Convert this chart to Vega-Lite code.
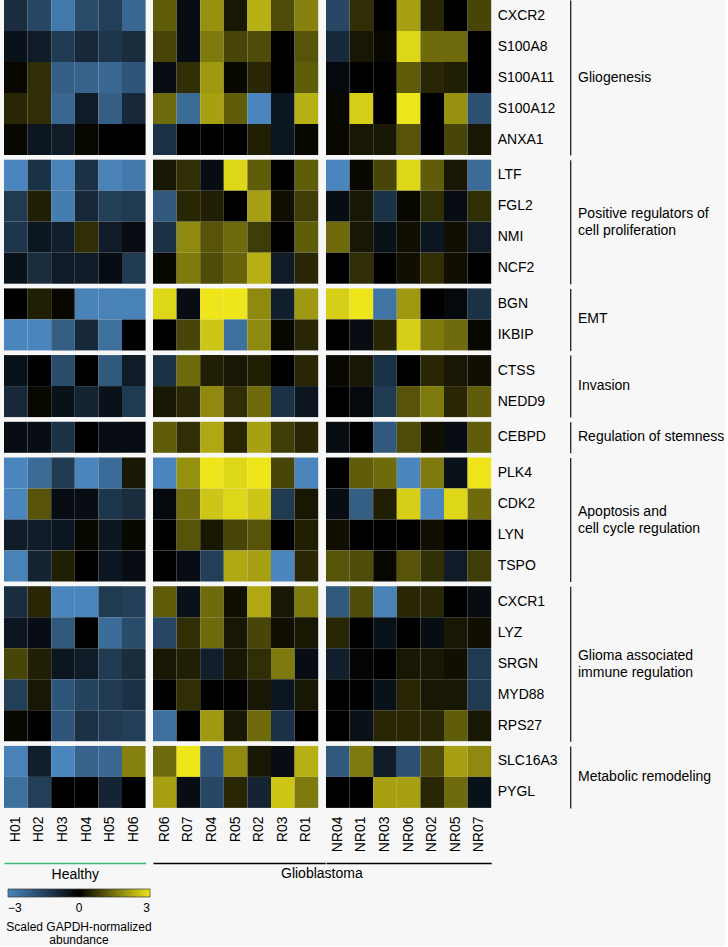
{
"$schema":"https://vega.github.io/schema/vega-lite/v6.json",
"background":"#f7f7f7",
"padding":{"left":4,"top":0,"right":0,"bottom":0},
"datasets":{
"genes":[{"g":"CXCR2","grp":"Gliogenesis"},{"g":"S100A8","grp":"Gliogenesis"},{"g":"S100A11","grp":"Gliogenesis"},{"g":"S100A12","grp":"Gliogenesis"},{"g":"ANXA1","grp":"Gliogenesis"},
{"g":"LTF","grp":"Positive regulators of cell proliferation"},{"g":"FGL2","grp":"Positive regulators of cell proliferation"},{"g":"NMI","grp":"Positive regulators of cell proliferation"},{"g":"NCF2","grp":"Positive regulators of cell proliferation"},
{"g":"BGN","grp":"EMT"},{"g":"IKBIP","grp":"EMT"},
{"g":"CTSS","grp":"Invasion"},{"g":"NEDD9","grp":"Invasion"},
{"g":"CEBPD","grp":"Regulation of stemness"},
{"g":"PLK4","grp":"Apoptosis and cell cycle regulation"},{"g":"CDK2","grp":"Apoptosis and cell cycle regulation"},{"g":"LYN","grp":"Apoptosis and cell cycle regulation"},{"g":"TSPO","grp":"Apoptosis and cell cycle regulation"},
{"g":"CXCR1","grp":"Glioma associated immune regulation"},{"g":"LYZ","grp":"Glioma associated immune regulation"},{"g":"SRGN","grp":"Glioma associated immune regulation"},{"g":"MYD88","grp":"Glioma associated immune regulation"},{"g":"RPS27","grp":"Glioma associated immune regulation"},
{"g":"SLC16A3","grp":"Metabolic remodeling"},{"g":"PYGL","grp":"Metabolic remodeling"}],
"cells":[
{"g":"CXCR2","s":"H01","v":-1.0},{"g":"CXCR2","s":"H02","v":-1.6},{"g":"CXCR2","s":"H03","v":-2.7},{"g":"CXCR2","s":"H04","v":-1.7},{"g":"CXCR2","s":"H05","v":-1.4},{"g":"CXCR2","s":"H06","v":-2.3},
{"g":"CXCR2","s":"R06","v":1.2},{"g":"CXCR2","s":"R07","v":-0.3},{"g":"CXCR2","s":"R04","v":1.9},{"g":"CXCR2","s":"R05","v":0.3},{"g":"CXCR2","s":"R02","v":2.3},{"g":"CXCR2","s":"R03","v":1.0},{"g":"CXCR2","s":"R01","v":1.7},
{"g":"CXCR2","s":"NR04","v":-1.6},{"g":"CXCR2","s":"NR01","v":0.6},{"g":"CXCR2","s":"NR03","v":0},{"g":"CXCR2","s":"NR06","v":2.1},{"g":"CXCR2","s":"NR02","v":0.5},{"g":"CXCR2","s":"NR05","v":0},{"g":"CXCR2","s":"NR07","v":0.9},
{"g":"S100A8","s":"H01","v":-0.4},{"g":"S100A8","s":"H02","v":-0.6},{"g":"S100A8","s":"H03","v":-1.3},{"g":"S100A8","s":"H04","v":-0.9},{"g":"S100A8","s":"H05","v":-1.2},{"g":"S100A8","s":"H06","v":-1.0},
{"g":"S100A8","s":"R06","v":0.9},{"g":"S100A8","s":"R07","v":-0.3},{"g":"S100A8","s":"R04","v":1.6},{"g":"S100A8","s":"R05","v":0.9},{"g":"S100A8","s":"R02","v":1.0},{"g":"S100A8","s":"R03","v":0},{"g":"S100A8","s":"R01","v":1.1},
{"g":"S100A8","s":"NR04","v":-0.9},{"g":"S100A8","s":"NR01","v":0.3},{"g":"S100A8","s":"NR03","v":0.1},{"g":"S100A8","s":"NR06","v":2.8},{"g":"S100A8","s":"NR02","v":1.4},{"g":"S100A8","s":"NR05","v":1.4},{"g":"S100A8","s":"NR07","v":0},
{"g":"S100A11","s":"H01","v":0.1},{"g":"S100A11","s":"H02","v":0.6},{"g":"S100A11","s":"H03","v":-2.1},{"g":"S100A11","s":"H04","v":-2.2},{"g":"S100A11","s":"H05","v":-2.3},{"g":"S100A11","s":"H06","v":-1.9},
{"g":"S100A11","s":"R06","v":-0.3},{"g":"S100A11","s":"R07","v":0.6},{"g":"S100A11","s":"R04","v":2.0},{"g":"S100A11","s":"R05","v":0.1},{"g":"S100A11","s":"R02","v":0.5},{"g":"S100A11","s":"R03","v":0},{"g":"S100A11","s":"R01","v":1.2},
{"g":"S100A11","s":"NR04","v":-0.2},{"g":"S100A11","s":"NR01","v":0},{"g":"S100A11","s":"NR03","v":0},{"g":"S100A11","s":"NR06","v":1.2},{"g":"S100A11","s":"NR02","v":0.5},{"g":"S100A11","s":"NR05","v":0.4},{"g":"S100A11","s":"NR07","v":0},
{"g":"S100A12","s":"H01","v":0.5},{"g":"S100A12","s":"H02","v":0.6},{"g":"S100A12","s":"H03","v":-2.3},{"g":"S100A12","s":"H04","v":-0.6},{"g":"S100A12","s":"H05","v":-2.1},{"g":"S100A12","s":"H06","v":-0.9},
{"g":"S100A12","s":"R06","v":1.4},{"g":"S100A12","s":"R07","v":-2.4},{"g":"S100A12","s":"R04","v":2.1},{"g":"S100A12","s":"R05","v":1.2},{"g":"S100A12","s":"R02","v":-3.0},{"g":"S100A12","s":"R03","v":-0.5},{"g":"S100A12","s":"R01","v":2.3},
{"g":"S100A12","s":"NR04","v":0.1},{"g":"S100A12","s":"NR01","v":2.7},{"g":"S100A12","s":"NR03","v":0},{"g":"S100A12","s":"NR06","v":3.0},{"g":"S100A12","s":"NR02","v":0},{"g":"S100A12","s":"NR05","v":1.9},{"g":"S100A12","s":"NR07","v":-1.8},
{"g":"ANXA1","s":"H01","v":0.1},{"g":"ANXA1","s":"H02","v":-0.5},{"g":"ANXA1","s":"H03","v":-0.6},{"g":"ANXA1","s":"H04","v":0.1},{"g":"ANXA1","s":"H05","v":0},{"g":"ANXA1","s":"H06","v":0},
{"g":"ANXA1","s":"R06","v":-1.1},{"g":"ANXA1","s":"R07","v":0},{"g":"ANXA1","s":"R04","v":0},{"g":"ANXA1","s":"R05","v":0},{"g":"ANXA1","s":"R02","v":0.4},{"g":"ANXA1","s":"R03","v":-0.5},{"g":"ANXA1","s":"R01","v":0.1},
{"g":"ANXA1","s":"NR04","v":0.1},{"g":"ANXA1","s":"NR01","v":0.3},{"g":"ANXA1","s":"NR03","v":0.3},{"g":"ANXA1","s":"NR06","v":1.1},{"g":"ANXA1","s":"NR02","v":0},{"g":"ANXA1","s":"NR05","v":0.9},{"g":"ANXA1","s":"NR07","v":0.3},
{"g":"LTF","s":"H01","v":-3.0},{"g":"LTF","s":"H02","v":-1.1},{"g":"LTF","s":"H03","v":-2.9},{"g":"LTF","s":"H04","v":-1.1},{"g":"LTF","s":"H05","v":-2.9},{"g":"LTF","s":"H06","v":-2.7},
{"g":"LTF","s":"R06","v":0.3},{"g":"LTF","s":"R07","v":0.6},{"g":"LTF","s":"R04","v":-0.3},{"g":"LTF","s":"R05","v":2.8},{"g":"LTF","s":"R02","v":1.2},{"g":"LTF","s":"R03","v":0},{"g":"LTF","s":"R01","v":1.2},
{"g":"LTF","s":"NR04","v":-3.0},{"g":"LTF","s":"NR01","v":0.1},{"g":"LTF","s":"NR03","v":0.9},{"g":"LTF","s":"NR06","v":2.8},{"g":"LTF","s":"NR02","v":1.2},{"g":"LTF","s":"NR05","v":0.3},{"g":"LTF","s":"NR07","v":-2.4},
{"g":"FGL2","s":"H01","v":-1.3},{"g":"FGL2","s":"H02","v":0.4},{"g":"FGL2","s":"H03","v":-2.8},{"g":"FGL2","s":"H04","v":-0.9},{"g":"FGL2","s":"H05","v":-1.4},{"g":"FGL2","s":"H06","v":-1.3},
{"g":"FGL2","s":"R06","v":-2.0},{"g":"FGL2","s":"R07","v":0.5},{"g":"FGL2","s":"R04","v":0.4},{"g":"FGL2","s":"R05","v":0},{"g":"FGL2","s":"R02","v":2.1},{"g":"FGL2","s":"R03","v":0.2},{"g":"FGL2","s":"R01","v":0.8},
{"g":"FGL2","s":"NR04","v":-0.3},{"g":"FGL2","s":"NR01","v":0.3},{"g":"FGL2","s":"NR03","v":-1.1},{"g":"FGL2","s":"NR06","v":0.1},{"g":"FGL2","s":"NR02","v":0.6},{"g":"FGL2","s":"NR05","v":-0.3},{"g":"FGL2","s":"NR07","v":0.6},
{"g":"NMI","s":"H01","v":-1.2},{"g":"NMI","s":"H02","v":-0.5},{"g":"NMI","s":"H03","v":-0.7},{"g":"NMI","s":"H04","v":0.6},{"g":"NMI","s":"H05","v":-0.6},{"g":"NMI","s":"H06","v":-0.3},
{"g":"NMI","s":"R06","v":-1.1},{"g":"NMI","s":"R07","v":1.8},{"g":"NMI","s":"R04","v":1.1},{"g":"NMI","s":"R05","v":1.4},{"g":"NMI","s":"R02","v":0.8},{"g":"NMI","s":"R03","v":0},{"g":"NMI","s":"R01","v":1.2},
{"g":"NMI","s":"NR04","v":1.4},{"g":"NMI","s":"NR01","v":0.3},{"g":"NMI","s":"NR03","v":-0.4},{"g":"NMI","s":"NR06","v":0.2},{"g":"NMI","s":"NR02","v":-0.5},{"g":"NMI","s":"NR05","v":0.2},{"g":"NMI","s":"NR07","v":-0.6},
{"g":"NCF2","s":"H01","v":-0.4},{"g":"NCF2","s":"H02","v":-1.0},{"g":"NCF2","s":"H03","v":-0.6},{"g":"NCF2","s":"H04","v":-0.6},{"g":"NCF2","s":"H05","v":-0.3},{"g":"NCF2","s":"H06","v":-1.3},
{"g":"NCF2","s":"R06","v":0.1},{"g":"NCF2","s":"R07","v":1.6},{"g":"NCF2","s":"R04","v":1.0},{"g":"NCF2","s":"R05","v":1.3},{"g":"NCF2","s":"R02","v":2.3},{"g":"NCF2","s":"R03","v":-0.6},{"g":"NCF2","s":"R01","v":0.5},
{"g":"NCF2","s":"NR04","v":0},{"g":"NCF2","s":"NR01","v":0.6},{"g":"NCF2","s":"NR03","v":0},{"g":"NCF2","s":"NR06","v":0.2},{"g":"NCF2","s":"NR02","v":0.6},{"g":"NCF2","s":"NR05","v":0.2},{"g":"NCF2","s":"NR07","v":0},
{"g":"BGN","s":"H01","v":0},{"g":"BGN","s":"H02","v":0.4},{"g":"BGN","s":"H03","v":0.1},{"g":"BGN","s":"H04","v":-2.9},{"g":"BGN","s":"H05","v":-2.9},{"g":"BGN","s":"H06","v":-2.9},
{"g":"BGN","s":"R06","v":2.8},{"g":"BGN","s":"R07","v":-0.3},{"g":"BGN","s":"R04","v":3.0},{"g":"BGN","s":"R05","v":3.0},{"g":"BGN","s":"R02","v":1.8},{"g":"BGN","s":"R03","v":-0.7},{"g":"BGN","s":"R01","v":2.0},
{"g":"BGN","s":"NR04","v":2.7},{"g":"BGN","s":"NR01","v":3.0},{"g":"BGN","s":"NR03","v":-2.6},{"g":"BGN","s":"NR06","v":2.0},{"g":"BGN","s":"NR02","v":0},{"g":"BGN","s":"NR05","v":-0.2},{"g":"BGN","s":"NR07","v":-1.1},
{"g":"IKBIP","s":"H01","v":-3.0},{"g":"IKBIP","s":"H02","v":-3.0},{"g":"IKBIP","s":"H03","v":-2.1},{"g":"IKBIP","s":"H04","v":-0.9},{"g":"IKBIP","s":"H05","v":-2.5},{"g":"IKBIP","s":"H06","v":0},
{"g":"IKBIP","s":"R06","v":0},{"g":"IKBIP","s":"R07","v":0.9},{"g":"IKBIP","s":"R04","v":2.6},{"g":"IKBIP","s":"R05","v":-2.5},{"g":"IKBIP","s":"R02","v":1.8},{"g":"IKBIP","s":"R03","v":0.1},{"g":"IKBIP","s":"R01","v":0.5},
{"g":"IKBIP","s":"NR04","v":0},{"g":"IKBIP","s":"NR01","v":-0.3},{"g":"IKBIP","s":"NR03","v":0.5},{"g":"IKBIP","s":"NR06","v":2.7},{"g":"IKBIP","s":"NR02","v":1.6},{"g":"IKBIP","s":"NR05","v":1.4},{"g":"IKBIP","s":"NR07","v":0.1},
{"g":"CTSS","s":"H01","v":-0.4},{"g":"CTSS","s":"H02","v":0},{"g":"CTSS","s":"H03","v":-1.7},{"g":"CTSS","s":"H04","v":0},{"g":"CTSS","s":"H05","v":-2.0},{"g":"CTSS","s":"H06","v":-0.6},
{"g":"CTSS","s":"R06","v":-1.1},{"g":"CTSS","s":"R07","v":1.4},{"g":"CTSS","s":"R04","v":0.4},{"g":"CTSS","s":"R05","v":0.3},{"g":"CTSS","s":"R02","v":0.4},{"g":"CTSS","s":"R03","v":0},{"g":"CTSS","s":"R01","v":0.5},
{"g":"CTSS","s":"NR04","v":0.1},{"g":"CTSS","s":"NR01","v":0.3},{"g":"CTSS","s":"NR03","v":-1.1},{"g":"CTSS","s":"NR06","v":0},{"g":"CTSS","s":"NR02","v":0.5},{"g":"CTSS","s":"NR05","v":0.3},{"g":"CTSS","s":"NR07","v":0.2},
{"g":"NEDD9","s":"H01","v":-0.9},{"g":"NEDD9","s":"H02","v":0.1},{"g":"NEDD9","s":"H03","v":-0.4},{"g":"NEDD9","s":"H04","v":-0.8},{"g":"NEDD9","s":"H05","v":-0.4},{"g":"NEDD9","s":"H06","v":-1.3},
{"g":"NEDD9","s":"R06","v":0.3},{"g":"NEDD9","s":"R07","v":0.5},{"g":"NEDD9","s":"R04","v":1.8},{"g":"NEDD9","s":"R05","v":0.6},{"g":"NEDD9","s":"R02","v":1.4},{"g":"NEDD9","s":"R03","v":-1.1},{"g":"NEDD9","s":"R01","v":-0.5},
{"g":"NEDD9","s":"NR04","v":0},{"g":"NEDD9","s":"NR01","v":-0.2},{"g":"NEDD9","s":"NR03","v":-1.3},{"g":"NEDD9","s":"NR06","v":1.1},{"g":"NEDD9","s":"NR02","v":1.6},{"g":"NEDD9","s":"NR05","v":0.5},{"g":"NEDD9","s":"NR07","v":1.2},
{"g":"CEBPD","s":"H01","v":-0.3},{"g":"CEBPD","s":"H02","v":-0.3},{"g":"CEBPD","s":"H03","v":-1.1},{"g":"CEBPD","s":"H04","v":0},{"g":"CEBPD","s":"H05","v":-0.3},{"g":"CEBPD","s":"H06","v":-0.3},
{"g":"CEBPD","s":"R06","v":1.2},{"g":"CEBPD","s":"R07","v":0.6},{"g":"CEBPD","s":"R04","v":2.2},{"g":"CEBPD","s":"R05","v":0.5},{"g":"CEBPD","s":"R02","v":2.1},{"g":"CEBPD","s":"R03","v":0.8},{"g":"CEBPD","s":"R01","v":0.5},
{"g":"CEBPD","s":"NR04","v":-0.3},{"g":"CEBPD","s":"NR01","v":0},{"g":"CEBPD","s":"NR03","v":-2.0},{"g":"CEBPD","s":"NR06","v":1.0},{"g":"CEBPD","s":"NR02","v":0.2},{"g":"CEBPD","s":"NR05","v":-0.3},{"g":"CEBPD","s":"NR07","v":1.2},
{"g":"PLK4","s":"H01","v":-3.0},{"g":"PLK4","s":"H02","v":-2.4},{"g":"PLK4","s":"H03","v":-1.3},{"g":"PLK4","s":"H04","v":-3.0},{"g":"PLK4","s":"H05","v":-2.4},{"g":"PLK4","s":"H06","v":0.3},
{"g":"PLK4","s":"R06","v":-3.0},{"g":"PLK4","s":"R07","v":1.9},{"g":"PLK4","s":"R04","v":3.0},{"g":"PLK4","s":"R05","v":2.8},{"g":"PLK4","s":"R02","v":3.0},{"g":"PLK4","s":"R03","v":0.9},{"g":"PLK4","s":"R01","v":-3.0},
{"g":"PLK4","s":"NR04","v":0},{"g":"PLK4","s":"NR01","v":1.2},{"g":"PLK4","s":"NR03","v":1.4},{"g":"PLK4","s":"NR06","v":-3.0},{"g":"PLK4","s":"NR02","v":1.6},{"g":"PLK4","s":"NR05","v":-0.4},{"g":"PLK4","s":"NR07","v":3.0},
{"g":"CDK2","s":"H01","v":-3.0},{"g":"CDK2","s":"H02","v":1.1},{"g":"CDK2","s":"H03","v":-0.3},{"g":"CDK2","s":"H04","v":-0.3},{"g":"CDK2","s":"H05","v":-1.2},{"g":"CDK2","s":"H06","v":-1.0},
{"g":"CDK2","s":"R06","v":-0.2},{"g":"CDK2","s":"R07","v":1.4},{"g":"CDK2","s":"R04","v":2.6},{"g":"CDK2","s":"R05","v":2.8},{"g":"CDK2","s":"R02","v":2.6},{"g":"CDK2","s":"R03","v":-1.3},{"g":"CDK2","s":"R01","v":0.3},
{"g":"CDK2","s":"NR04","v":-0.3},{"g":"CDK2","s":"NR01","v":-2.1},{"g":"CDK2","s":"NR03","v":0.4},{"g":"CDK2","s":"NR06","v":2.7},{"g":"CDK2","s":"NR02","v":-3.0},{"g":"CDK2","s":"NR05","v":2.8},{"g":"CDK2","s":"NR07","v":1.4},
{"g":"LYN","s":"H01","v":-0.6},{"g":"LYN","s":"H02","v":-0.6},{"g":"LYN","s":"H03","v":-0.5},{"g":"LYN","s":"H04","v":0.1},{"g":"LYN","s":"H05","v":-0.5},{"g":"LYN","s":"H06","v":0.1},
{"g":"LYN","s":"R06","v":0},{"g":"LYN","s":"R07","v":1.1},{"g":"LYN","s":"R04","v":0.3},{"g":"LYN","s":"R05","v":0.9},{"g":"LYN","s":"R02","v":1.1},{"g":"LYN","s":"R03","v":0},{"g":"LYN","s":"R01","v":0.4},
{"g":"LYN","s":"NR04","v":0.2},{"g":"LYN","s":"NR01","v":0},{"g":"LYN","s":"NR03","v":0},{"g":"LYN","s":"NR06","v":0},{"g":"LYN","s":"NR02","v":0.2},{"g":"LYN","s":"NR05","v":0},{"g":"LYN","s":"NR07","v":0},
{"g":"TSPO","s":"H01","v":-2.9},{"g":"TSPO","s":"H02","v":-0.8},{"g":"TSPO","s":"H03","v":0.4},{"g":"TSPO","s":"H04","v":0},{"g":"TSPO","s":"H05","v":-0.5},{"g":"TSPO","s":"H06","v":-0.3},
{"g":"TSPO","s":"R06","v":0},{"g":"TSPO","s":"R07","v":-0.3},{"g":"TSPO","s":"R04","v":-1.4},{"g":"TSPO","s":"R05","v":2.2},{"g":"TSPO","s":"R02","v":2.1},{"g":"TSPO","s":"R03","v":-3.0},{"g":"TSPO","s":"R01","v":0.5},
{"g":"TSPO","s":"NR04","v":1.1},{"g":"TSPO","s":"NR01","v":1.0},{"g":"TSPO","s":"NR03","v":0.1},{"g":"TSPO","s":"NR06","v":1.1},{"g":"TSPO","s":"NR02","v":0.6},{"g":"TSPO","s":"NR05","v":-0.6},{"g":"TSPO","s":"NR07","v":0.8},
{"g":"CXCR1","s":"H01","v":-1.0},{"g":"CXCR1","s":"H02","v":0.5},{"g":"CXCR1","s":"H03","v":-3.0},{"g":"CXCR1","s":"H04","v":-3.0},{"g":"CXCR1","s":"H05","v":-1.3},{"g":"CXCR1","s":"H06","v":-1.4},
{"g":"CXCR1","s":"R06","v":1.2},{"g":"CXCR1","s":"R07","v":-0.4},{"g":"CXCR1","s":"R04","v":1.4},{"g":"CXCR1","s":"R05","v":0.2},{"g":"CXCR1","s":"R02","v":2.2},{"g":"CXCR1","s":"R03","v":0.3},{"g":"CXCR1","s":"R01","v":1.6},
{"g":"CXCR1","s":"NR04","v":-2.0},{"g":"CXCR1","s":"NR01","v":1.0},{"g":"CXCR1","s":"NR03","v":-2.9},{"g":"CXCR1","s":"NR06","v":0.5},{"g":"CXCR1","s":"NR02","v":0.5},{"g":"CXCR1","s":"NR05","v":0},{"g":"CXCR1","s":"NR07","v":-0.3},
{"g":"LYZ","s":"H01","v":-0.5},{"g":"LYZ","s":"H02","v":-0.3},{"g":"LYZ","s":"H03","v":-2.0},{"g":"LYZ","s":"H04","v":0},{"g":"LYZ","s":"H05","v":-2.4},{"g":"LYZ","s":"H06","v":-1.7},
{"g":"LYZ","s":"R06","v":-1.6},{"g":"LYZ","s":"R07","v":0.6},{"g":"LYZ","s":"R04","v":1.4},{"g":"LYZ","s":"R05","v":0.3},{"g":"LYZ","s":"R02","v":0.9},{"g":"LYZ","s":"R03","v":0.2},{"g":"LYZ","s":"R01","v":0.3},
{"g":"LYZ","s":"NR04","v":0.5},{"g":"LYZ","s":"NR01","v":0},{"g":"LYZ","s":"NR03","v":-0.4},{"g":"LYZ","s":"NR06","v":0},{"g":"LYZ","s":"NR02","v":-0.3},{"g":"LYZ","s":"NR05","v":0.3},{"g":"LYZ","s":"NR07","v":0.2},
{"g":"SRGN","s":"H01","v":0.9},{"g":"SRGN","s":"H02","v":0.4},{"g":"SRGN","s":"H03","v":-0.5},{"g":"SRGN","s":"H04","v":-0.6},{"g":"SRGN","s":"H05","v":-1.3},{"g":"SRGN","s":"H06","v":-1.0},
{"g":"SRGN","s":"R06","v":0.3},{"g":"SRGN","s":"R07","v":0.4},{"g":"SRGN","s":"R04","v":-0.7},{"g":"SRGN","s":"R05","v":0.3},{"g":"SRGN","s":"R02","v":0.6},{"g":"SRGN","s":"R03","v":1.6},{"g":"SRGN","s":"R01","v":-0.3},
{"g":"SRGN","s":"NR04","v":-0.7},{"g":"SRGN","s":"NR01","v":-0.1},{"g":"SRGN","s":"NR03","v":0},{"g":"SRGN","s":"NR06","v":0.3},{"g":"SRGN","s":"NR02","v":0.3},{"g":"SRGN","s":"NR05","v":0.2},{"g":"SRGN","s":"NR07","v":-1.3},
{"g":"MYD88","s":"H01","v":-1.4},{"g":"MYD88","s":"H02","v":0.3},{"g":"MYD88","s":"H03","v":-1.9},{"g":"MYD88","s":"H04","v":-1.5},{"g":"MYD88","s":"H05","v":-1.3},{"g":"MYD88","s":"H06","v":-1.1},
{"g":"MYD88","s":"R06","v":0},{"g":"MYD88","s":"R07","v":0.6},{"g":"MYD88","s":"R04","v":0},{"g":"MYD88","s":"R05","v":0},{"g":"MYD88","s":"R02","v":0.3},{"g":"MYD88","s":"R03","v":-0.5},{"g":"MYD88","s":"R01","v":0.3},
{"g":"MYD88","s":"NR04","v":0},{"g":"MYD88","s":"NR01","v":0},{"g":"MYD88","s":"NR03","v":-0.4},{"g":"MYD88","s":"NR06","v":0.5},{"g":"MYD88","s":"NR02","v":0.3},{"g":"MYD88","s":"NR05","v":0.3},{"g":"MYD88","s":"NR07","v":-1.3},
{"g":"RPS27","s":"H01","v":0.1},{"g":"RPS27","s":"H02","v":0},{"g":"RPS27","s":"H03","v":-1.9},{"g":"RPS27","s":"H04","v":-1.1},{"g":"RPS27","s":"H05","v":-1.3},{"g":"RPS27","s":"H06","v":-1.4},
{"g":"RPS27","s":"R06","v":-2.5},{"g":"RPS27","s":"R07","v":0},{"g":"RPS27","s":"R04","v":2.0},{"g":"RPS27","s":"R05","v":0.3},{"g":"RPS27","s":"R02","v":1.4},{"g":"RPS27","s":"R03","v":-1.1},{"g":"RPS27","s":"R01","v":0},
{"g":"RPS27","s":"NR04","v":0},{"g":"RPS27","s":"NR01","v":-0.4},{"g":"RPS27","s":"NR03","v":0.5},{"g":"RPS27","s":"NR06","v":0.5},{"g":"RPS27","s":"NR02","v":0.5},{"g":"RPS27","s":"NR05","v":1.2},{"g":"RPS27","s":"NR07","v":0.3},
{"g":"SLC16A3","s":"H01","v":-2.9},{"g":"SLC16A3","s":"H02","v":-0.7},{"g":"SLC16A3","s":"H03","v":-3.0},{"g":"SLC16A3","s":"H04","v":-2.2},{"g":"SLC16A3","s":"H05","v":-2.3},{"g":"SLC16A3","s":"H06","v":1.7},
{"g":"SLC16A3","s":"R06","v":1.4},{"g":"SLC16A3","s":"R07","v":3.0},{"g":"SLC16A3","s":"R04","v":-2.0},{"g":"SLC16A3","s":"R05","v":1.8},{"g":"SLC16A3","s":"R02","v":0.3},{"g":"SLC16A3","s":"R03","v":-0.3},{"g":"SLC16A3","s":"R01","v":2.3},
{"g":"SLC16A3","s":"NR04","v":-2.0},{"g":"SLC16A3","s":"NR01","v":1.6},{"g":"SLC16A3","s":"NR03","v":-0.6},{"g":"SLC16A3","s":"NR06","v":-1.8},{"g":"SLC16A3","s":"NR02","v":1.0},{"g":"SLC16A3","s":"NR05","v":2.1},{"g":"SLC16A3","s":"NR07","v":1.8},
{"g":"PYGL","s":"H01","v":-2.5},{"g":"PYGL","s":"H02","v":-1.4},{"g":"PYGL","s":"H03","v":0},{"g":"PYGL","s":"H04","v":0},{"g":"PYGL","s":"H05","v":-0.8},{"g":"PYGL","s":"H06","v":0},
{"g":"PYGL","s":"R06","v":2.1},{"g":"PYGL","s":"R07","v":-0.3},{"g":"PYGL","s":"R04","v":-1.6},{"g":"PYGL","s":"R05","v":0.5},{"g":"PYGL","s":"R02","v":-0.8},{"g":"PYGL","s":"R03","v":2.6},{"g":"PYGL","s":"R01","v":1.6},
{"g":"PYGL","s":"NR04","v":0},{"g":"PYGL","s":"NR01","v":0},{"g":"PYGL","s":"NR03","v":2.1},{"g":"PYGL","s":"NR06","v":2.1},{"g":"PYGL","s":"NR02","v":0.5},{"g":"PYGL","s":"NR05","v":1.4},{"g":"PYGL","s":"NR07","v":-0.4}
]},
"data":{"name":"cells"},
"transform":[{"lookup":"g","from":{"data":{"name":"genes"},"key":"g","fields":["grp"]}}],
"config":{
 "font":"Liberation Sans",
 "view":{"stroke":null},
 "axis":{"labelColor":"#000000","titleColor":"#000000","labelFontSize":14,"titleFontSize":14,"titleFontWeight":"normal","ticks":false,"tickSize":0}
},
"spacing":7,
"hconcat":[
 {
  "transform":[{"filter":"indexof(datum.s,'H')==0"}],
  "facet":{"row":{"field":"grp","type":"nominal","sort":["Gliogenesis","Positive regulators of cell proliferation","EMT","Invasion","Regulation of stemness","Apoptosis and cell cycle regulation","Glioma associated immune regulation","Metabolic remodeling"],"header":null}},
  "spacing":{"row":4.7},
  "resolve":{"scale":{"y":"independent"}},
  "spec":{
   "width":{"step":23.6},"height":{"step":31},
   "mark":"rect",
   "encoding":{
    "x":{"field":"s","type":"nominal","sort":["H01","H02","H03","H04","H05","H06"],"scale":{"paddingInner":0,"paddingOuter":0},
         "axis":{"title":"Healthy","labelAngle":-90,"labelAlign":"right","labelBaseline":"middle","offset":55,"labelPadding":-47,"domainColor":"#3cb878","domainWidth":1.7,"titlePadding":4}},
    "y":{"field":"g","type":"nominal","sort":["CXCR2","S100A8","S100A11","S100A12","ANXA1","LTF","FGL2","NMI","NCF2","BGN","IKBIP","CTSS","NEDD9","CEBPD","PLK4","CDK2","LYN","TSPO","CXCR1","LYZ","SRGN","MYD88","RPS27","SLC16A3","PYGL"],"scale":{"paddingInner":0,"paddingOuter":0},"axis":null},
    "color":{"field":"v","type":"quantitative","scale":{"domain":[-3,0,3],"range":["#4a86bd","#000000","#eee51a"],"interpolate":"rgb","clamp":true},
      "legend":{"orient":"none","legendX":2,"legendY":889,"direction":"horizontal","gradientLength":142,"gradientThickness":8,"gradientStrokeColor":"#333333","gradientStrokeWidth":0.7,"values":[-3,0,3],"format":"d","labelAlign":"center","labelFontSize":12,"labelColor":"#000000","labelOffset":6,"title":["Scaled GAPDH-normalized","abundance"],"titleOrient":"bottom","titleAnchor":"middle","titleAlign":"center","titleFontSize":12,"titleFontWeight":"normal","titleColor":"#000000","titlePadding":8,"titleLineHeight":13,"padding":0}}
   }
  }
 },
 {
  "spacing":0,
  "title":{"text":"Glioblastoma","orient":"bottom","anchor":"start","dx":128,"offset":4,"fontSize":14,"fontWeight":"normal","color":"#000000","font":"Liberation Sans"},
  "hconcat":[
   {
    "transform":[{"filter":"indexof(datum.s,'R')==0"}],
    "facet":{"row":{"field":"grp","type":"nominal","sort":["Gliogenesis","Positive regulators of cell proliferation","EMT","Invasion","Regulation of stemness","Apoptosis and cell cycle regulation","Glioma associated immune regulation","Metabolic remodeling"],"header":null}},
    "spacing":{"row":4.7},
    "resolve":{"scale":{"y":"independent"}},
    "spec":{
     "width":{"step":23.6},"height":{"step":31},
     "mark":"rect",
     "encoding":{
      "x":{"field":"s","type":"nominal","sort":["R06","R07","R04","R05","R02","R03","R01"],"scale":{"paddingInner":0,"paddingOuter":0.1483,"align":0},
           "axis":{"title":null,"labelAngle":-90,"labelAlign":"right","labelBaseline":"middle","offset":55,"labelPadding":-47,"domainColor":"#000000","domainWidth":1.7}},
      "y":{"field":"g","type":"nominal","sort":["CXCR2","S100A8","S100A11","S100A12","ANXA1","LTF","FGL2","NMI","NCF2","BGN","IKBIP","CTSS","NEDD9","CEBPD","PLK4","CDK2","LYN","TSPO","CXCR1","LYZ","SRGN","MYD88","RPS27","SLC16A3","PYGL"],"scale":{"paddingInner":0,"paddingOuter":0},"axis":null},
      "color":{"field":"v","type":"quantitative","scale":{"domain":[-3,0,3],"range":["#4a86bd","#000000","#eee51a"],"interpolate":"rgb","clamp":true},
        "legend":{"orient":"none","legendX":2,"legendY":889,"direction":"horizontal","gradientLength":142,"gradientThickness":8,"gradientStrokeColor":"#333333","gradientStrokeWidth":0.7,"values":[-3,0,3],"format":"d","labelAlign":"center","labelFontSize":12,"labelColor":"#000000","labelOffset":6,"title":["Scaled GAPDH-normalized","abundance"],"titleOrient":"bottom","titleAnchor":"middle","titleAlign":"center","titleFontSize":12,"titleFontWeight":"normal","titleColor":"#000000","titlePadding":8,"titleLineHeight":13,"padding":0}}
     }
    }
   },
   {
    "transform":[{"filter":"indexof(datum.s,'NR')==0"}],
    "facet":{"row":{"field":"grp","type":"nominal","title":null,"sort":["Gliogenesis","Positive regulators of cell proliferation","EMT","Invasion","Regulation of stemness","Apoptosis and cell cycle regulation","Glioma associated immune regulation","Metabolic remodeling"],
      "header":{"orient":"right","labelOrient":"right","labelAngle":0,
        "labelAlign":{"expr":"length(parent['grp']) > 30 ? 'left' : 'right'"},
        "labelBaseline":{"expr":"length(parent['grp']) > 30 ? 'line-bottom' : 'middle'"},
        "labelPadding":{"expr":"parent['grp'] == 'Positive regulators of cell proliferation' ? -123.7 : parent['grp'] == 'Apoptosis and cell cycle regulation' ? -115.2 : parent['grp'] == 'Glioma associated immune regulation' ? -108.2 : 7"},
        "labelFontSize":14,"labelColor":"#000000","labelLineHeight":17,
        "labelExpr":"datum.value == 'Positive regulators of cell proliferation' ? ['Positive regulators of','cell proliferation'] : datum.value == 'Apoptosis and cell cycle regulation' ? ['Apoptosis and','cell cycle regulation'] : datum.value == 'Glioma associated immune regulation' ? ['Glioma associated','immune regulation'] : datum.value"}}},
    "spacing":{"row":4.7},
    "resolve":{"scale":{"y":"independent"}},
    "spec":{
     "width":{"step":23.6},"height":{"step":31},
     "mark":"rect",
     "encoding":{
      "x":{"field":"s","type":"nominal","sort":["NR04","NR01","NR03","NR06","NR02","NR05","NR07"],"scale":{"paddingInner":0,"paddingOuter":0},
           "axis":{"title":null,"labelAngle":-90,"labelAlign":"right","labelBaseline":"middle","offset":55,"labelPadding":-47,"domainColor":"#000000","domainWidth":1.7}},
      "y":{"field":"g","type":"nominal","sort":["CXCR2","S100A8","S100A11","S100A12","ANXA1","LTF","FGL2","NMI","NCF2","BGN","IKBIP","CTSS","NEDD9","CEBPD","PLK4","CDK2","LYN","TSPO","CXCR1","LYZ","SRGN","MYD88","RPS27","SLC16A3","PYGL"],"scale":{"paddingInner":0,"paddingOuter":0},
           "axis":{"orient":"right","title":null,"offset":79,"labelPadding":-73,"labelAlign":"left","labelBaseline":"middle","domainColor":"#222222","domainWidth":1.3,"labelFontSize":14}},
      "color":{"field":"v","type":"quantitative","scale":{"domain":[-3,0,3],"range":["#4a86bd","#000000","#eee51a"],"interpolate":"rgb","clamp":true},
        "legend":{"orient":"none","legendX":2,"legendY":889,"direction":"horizontal","gradientLength":142,"gradientThickness":8,"gradientStrokeColor":"#333333","gradientStrokeWidth":0.7,"values":[-3,0,3],"format":"d","labelAlign":"center","labelFontSize":12,"labelColor":"#000000","labelOffset":6,"title":["Scaled GAPDH-normalized","abundance"],"titleOrient":"bottom","titleAnchor":"middle","titleAlign":"center","titleFontSize":12,"titleFontWeight":"normal","titleColor":"#000000","titlePadding":8,"titleLineHeight":13,"padding":0}}
     }
    }
   }
  ]
 }
]
}
